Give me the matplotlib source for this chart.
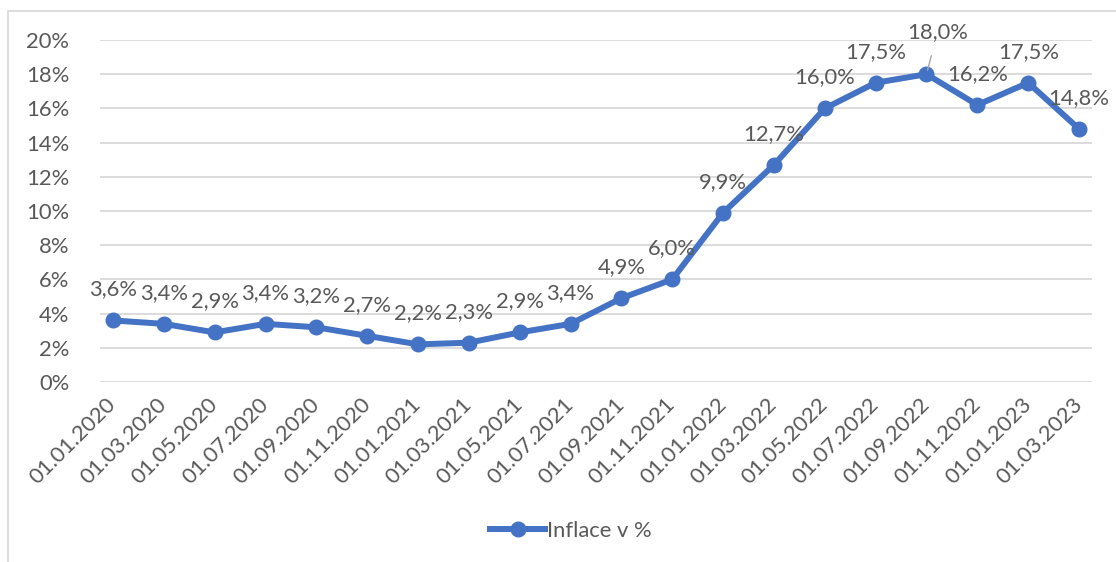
import matplotlib
matplotlib.use("Agg")
import matplotlib.pyplot as plt
from matplotlib.lines import Line2D
from matplotlib.patches import Rectangle

dates = ["01.01.2020", "01.03.2020", "01.05.2020", "01.07.2020", "01.09.2020",
         "01.11.2020", "01.01.2021", "01.03.2021", "01.05.2021", "01.07.2021",
         "01.09.2021", "01.11.2021", "01.01.2022", "01.03.2022", "01.05.2022",
         "01.07.2022", "01.09.2022", "01.11.2022", "01.01.2023", "01.03.2023"]
inflation = [3.6, 3.4, 2.9, 3.4, 3.2, 2.7, 2.2, 2.3, 2.9, 3.4,
             4.9, 6.0, 9.9, 12.7, 16.0, 17.5, 18.0, 16.2, 17.5, 14.8]
y_ticks = [0, 2, 4, 6, 8, 10, 12, 14, 16, 18, 20]
series_name = "Inflace v %"

BLUE = "#4472C4"
TXT = "#595959"
GRID = "#D9D9D9"
FS = 15.8
plt.rcParams['font.family'] = ['Lato', 'DejaVu Sans']

W, H = 1116, 562
fig = plt.figure(figsize=(W / 100, H / 100), dpi=100)
ax = fig.add_axes([100 / W, 1 - 382 / H, (1092 - 100) / W, (382 - 40) / H])

x = list(range(len(dates)))
ax.plot(x, inflation, color=BLUE, lw=4.3, marker='o', markersize=10.5,
        solid_capstyle='round', zorder=3, clip_on=False)

ax.set_xlim(-0.255, len(dates) - 1 + 0.255)
ax.set_ylim(0, 20)
ax.set_yticks(y_ticks)
ax.set_yticklabels([f"{v}%" for v in y_ticks])
ax.set_xticks(x)
ax.set_xticklabels(dates, rotation=45, ha='right', va='center', rotation_mode='anchor')
ax.tick_params(axis='both', length=0, labelsize=FS, colors=TXT)
ax.tick_params(axis='y', pad=22)
ax.tick_params(axis='x', pad=14)
ax.grid(axis='y', color=GRID, lw=1.3)
ax.set_axisbelow(True)
for s in ax.spines.values():
    s.set_visible(False)

for i, v in enumerate(inflation):
    lab = f"{v:.1f}%".replace('.', ',')
    if dates[i] == "01.09.2022":
        ax.annotate(lab, (i, v), xytext=(11, 42), textcoords='offset pixels',
                    ha='center', va='center', fontsize=FS, color=TXT,
                    arrowprops=dict(arrowstyle='-', color='#A6A6A6', lw=1,
                                    shrinkA=8, shrinkB=3))
    else:
        ax.annotate(lab, (i, v), xytext=(0, 31), textcoords='offset pixels',
                    ha='center', va='center', fontsize=FS, color=TXT)

handle = Line2D([], [], color=BLUE, lw=4.3, marker='o', markersize=10.5)
fig.legend([handle], [series_name], loc='center', bbox_to_anchor=(571 / W, 1 - 531 / H),
           frameon=False, fontsize=FS, labelcolor=TXT, handlelength=2.5,
           handletextpad=0.1)

fig.patches.append(Rectangle((8 / W, -0.1), 1.2, 1 - 11 / H + 0.1,
                             transform=fig.transFigure, fill=False,
                             edgecolor=GRID, lw=1.3))

fig.savefig("out.png", dpi=100)
